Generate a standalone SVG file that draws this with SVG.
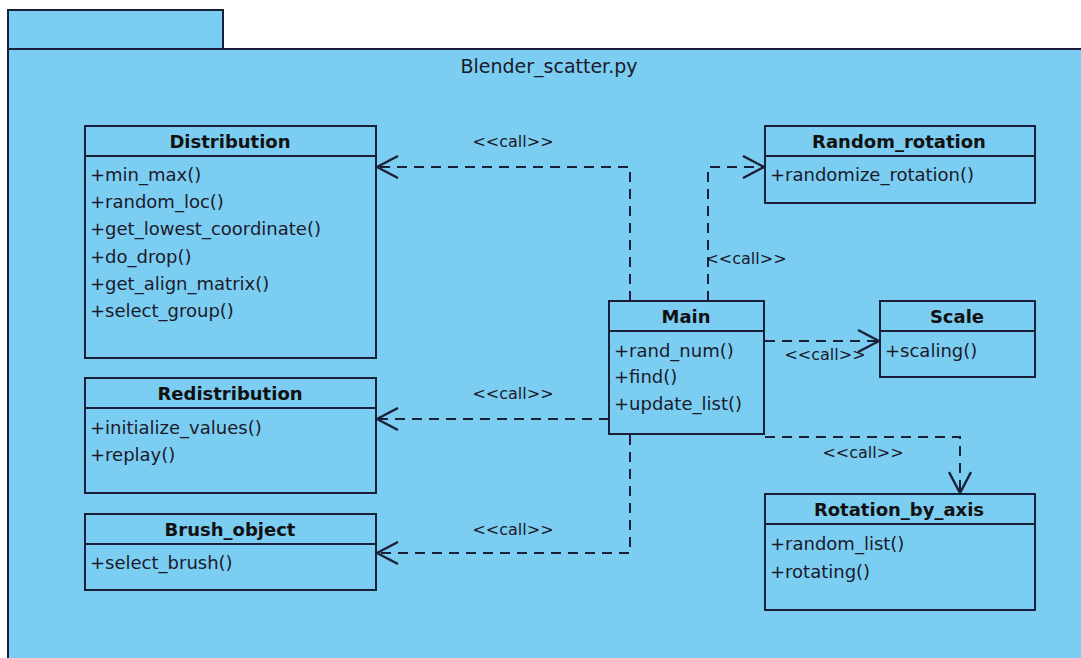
<svg xmlns="http://www.w3.org/2000/svg" width="1081" height="658" viewBox="0 0 1081 658">
  <style>
    .pkg { fill: #7ccdf2; stroke: #1a1f3a; stroke-width: 2; }
    .box { fill: #7ccdf2; stroke: #1a1f3a; stroke-width: 2; }
    .sep { stroke: #1a1f3a; stroke-width: 2; }
    .name { font-family: "DejaVu Sans", sans-serif; font-size: 18px; font-weight: bold; fill: #111; text-anchor: middle; }
    .op { font-family: "DejaVu Sans", sans-serif; font-size: 18px; fill: #1a1a2a; }
    .lbl { font-family: "DejaVu Sans", sans-serif; font-size: 16px; fill: #1a1a2a; text-anchor: middle; }
    .title { font-family: "DejaVu Sans", sans-serif; font-size: 19px; fill: #1a1a2a; text-anchor: middle; }
    .dep { fill: none; stroke: #1a1f3a; stroke-width: 2; stroke-dasharray: 10 7; marker-end: url(#open); }
  </style>
  <defs>
    <marker id="open" viewBox="0 0 24 24" refX="22" refY="12" markerWidth="24" markerHeight="24" markerUnits="userSpaceOnUse" orient="auto">
      <path d="M1,1 L22,12 L1,23" fill="none" stroke="#1a1f3a" stroke-width="2.4"/>
    </marker>
  </defs>

  <rect width="1081" height="658" fill="#ffffff"/>

  <!-- package frame -->
  <g id="package">
    <rect class="pkg" x="8" y="10" width="215" height="39"/>
    <rect class="pkg" x="8" y="49" width="1080" height="620"/>
    <text class="title" x="549" y="73">Blender_scatter.py</text>
  </g>

  <!-- dependencies -->
  <g id="connectors">
    <path class="dep" d="M630,301 V167 H377"/>
    <path class="dep" d="M708,301 V167 H764"/>
    <path class="dep" d="M765,341 H879"/>
    <path class="dep" d="M609,419 H377"/>
    <path class="dep" d="M630,435 V553 H377"/>
    <path class="dep" d="M765,437 H960 V493"/>
    <text class="lbl" x="513" y="147">&lt;&lt;call&gt;&gt;</text>
    <text class="lbl" x="746" y="264">&lt;&lt;call&gt;&gt;</text>
    <text class="lbl" x="825" y="360">&lt;&lt;call&gt;&gt;</text>
    <text class="lbl" x="513" y="399">&lt;&lt;call&gt;&gt;</text>
    <text class="lbl" x="513" y="535">&lt;&lt;call&gt;&gt;</text>
    <text class="lbl" x="863" y="458">&lt;&lt;call&gt;&gt;</text>
  </g>

  <g id="Distribution">
    <rect class="box" x="85" y="126" width="291" height="232"/>
    <line class="sep" x1="85" y1="156" x2="376" y2="156"/>
    <text class="name" x="230" y="148">Distribution</text>
    <text class="op" x="90" y="181">+min_max()</text>
    <text class="op" x="90" y="208">+random_loc()</text>
    <text class="op" x="90" y="235">+get_lowest_coordinate()</text>
    <text class="op" x="90" y="263">+do_drop()</text>
    <text class="op" x="90" y="290">+get_align_matrix()</text>
    <text class="op" x="90" y="317">+select_group()</text>
  </g>

  <g id="Redistribution">
    <rect class="box" x="85" y="378" width="291" height="115"/>
    <line class="sep" x1="85" y1="408" x2="376" y2="408"/>
    <text class="name" x="230" y="400">Redistribution</text>
    <text class="op" x="90" y="434">+initialize_values()</text>
    <text class="op" x="90" y="461">+replay()</text>
  </g>

  <g id="Brush_object">
    <rect class="box" x="85" y="514" width="291" height="76"/>
    <line class="sep" x1="85" y1="544" x2="376" y2="544"/>
    <text class="name" x="230" y="536">Brush_object</text>
    <text class="op" x="90" y="569">+select_brush()</text>
  </g>

  <g id="Main">
    <rect class="box" x="609" y="301" width="155" height="133"/>
    <line class="sep" x1="609" y1="331" x2="764" y2="331"/>
    <text class="name" x="686" y="323">Main</text>
    <text class="op" x="614" y="357">+rand_num()</text>
    <text class="op" x="614" y="383">+find()</text>
    <text class="op" x="614" y="410">+update_list()</text>
  </g>

  <g id="Random_rotation">
    <rect class="box" x="765" y="126" width="270" height="77"/>
    <line class="sep" x1="765" y1="156" x2="1035" y2="156"/>
    <text class="name" x="899" y="148">Random_rotation</text>
    <text class="op" x="770" y="181">+randomize_rotation()</text>
  </g>

  <g id="Scale">
    <rect class="box" x="880" y="301" width="155" height="76"/>
    <line class="sep" x1="880" y1="331" x2="1035" y2="331"/>
    <text class="name" x="957" y="323">Scale</text>
    <text class="op" x="885" y="357">+scaling()</text>
  </g>

  <g id="Rotation_by_axis">
    <rect class="box" x="765" y="494" width="270" height="116"/>
    <line class="sep" x1="765" y1="524" x2="1035" y2="524"/>
    <text class="name" x="899" y="516">Rotation_by_axis</text>
    <text class="op" x="770" y="550">+random_list()</text>
    <text class="op" x="770" y="578">+rotating()</text>
  </g>
</svg>
